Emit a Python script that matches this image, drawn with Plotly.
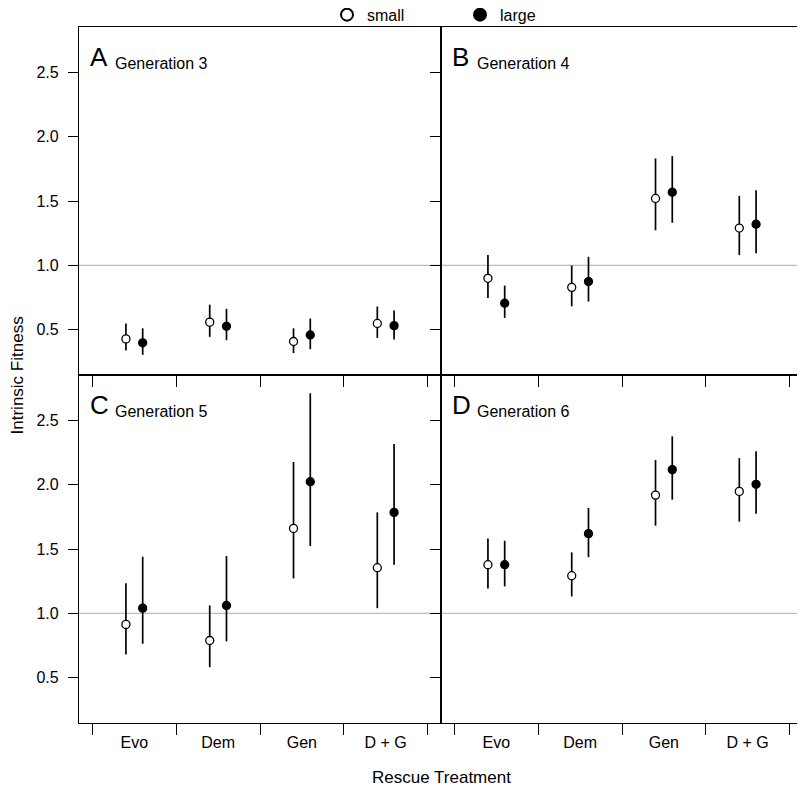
import plotly.graph_objects as go
from plotly.subplots import make_subplots

treatments = ["Evo", "Dem", "Gen", "D + G"]
panel_letters = ["A", "B", "C", "D"]
panel_titles = ["Generation 3", "Generation 4", "Generation 5", "Generation 6"]

# estimates (mean, lower, upper) per panel, treatments in order
small_mean = [[0.43, 0.56, 0.41, 0.55],
              [0.90, 0.83, 1.52, 1.29],
              [0.915, 0.79, 1.66, 1.355],
              [1.378, 1.293, 1.918, 1.947]]
small_lo = [[0.34, 0.446, 0.32, 0.438],
            [0.748, 0.683, 1.273, 1.08],
            [0.682, 0.583, 1.272, 1.041],
            [1.194, 1.132, 1.681, 1.712]]
small_hi = [[0.549, 0.696, 0.512, 0.681],
            [1.082, 0.999, 1.83, 1.54],
            [1.235, 1.062, 2.175, 1.784],
            [1.582, 1.474, 2.19, 2.205]]
large_mean = [[0.40, 0.528, 0.461, 0.533],
              [0.707, 0.875, 1.568, 1.32],
              [1.041, 1.062, 2.022, 1.784],
              [1.378, 1.619, 2.116, 2.002]]
large_lo = [[0.306, 0.42, 0.35, 0.425],
            [0.593, 0.72, 1.331, 1.095],
            [0.765, 0.783, 1.523, 1.378],
            [1.21, 1.437, 1.883, 1.774]]
large_hi = [[0.512, 0.663, 0.588, 0.65],
            [0.844, 1.067, 1.848, 1.584],
            [1.44, 1.445, 2.708, 2.315],
            [1.564, 1.818, 2.374, 2.258]]

y_ticks = [0.5, 1.0, 1.5, 2.0, 2.5]
ref_level = 1.0
dodge = 0.1

FONT = "Liberation Sans, Arial, Helvetica, sans-serif"

fig = make_subplots(rows=2, cols=2, horizontal_spacing=0, vertical_spacing=0)

pos = list(range(1, len(treatments) + 1))
for p in range(4):
    r, c = p // 2 + 1, p % 2 + 1
    for name, mean, lo, hi, fill in [
        ("small", small_mean[p], small_lo[p], small_hi[p], "white"),
        ("large", large_mean[p], large_lo[p], large_hi[p], "black"),
    ]:
        off = -dodge if name == "small" else dodge
        fig.add_trace(go.Scatter(
            x=[v + off for v in pos], y=mean, mode="markers", name=name,
            showlegend=(p == 0),
            marker=dict(size=8, color=fill, line=dict(color="black", width=1.3)),
            error_y=dict(type="data", symmetric=False,
                         array=[h - m for h, m in zip(hi, mean)],
                         arrayminus=[m - l for m, l in zip(mean, lo)],
                         width=0, thickness=1.7, color="black"),
        ), row=r, col=c)
    xa = "x" if p == 0 else f"x{p+1}"
    ya = "y" if p == 0 else f"y{p+1}"
    fig.add_shape(type="line", xref=f"{xa} domain", yref=ya, x0=0, x1=1,
                  y0=ref_level, y1=ref_level, line=dict(color="#bdbdbd", width=1.2),
                  layer="below")
    fig.add_annotation(xref=f"{xa} domain", yref=f"{ya} domain", x=0.024, y=0.866,
                       text=panel_letters[p], showarrow=False, xanchor="left",
                       yanchor="bottom", font=dict(size=26, color="black", family=FONT))
    fig.add_annotation(xref=f"{xa} domain", yref=f"{ya} domain", x=0.095, y=0.865,
                       text=panel_titles[p], showarrow=False, xanchor="left",
                       yanchor="bottom", font=dict(size=16, color="black", family=FONT))

    fig.update_xaxes(row=r, col=c, range=[0.34, 4.66], tickmode="array",
                     tickvals=pos, ticktext=treatments if r == 2 else [""] * 4,
                     showticklabels=(r == 2), automargin=False,
                     ticks="outside", ticklen=5, tickcolor="rgba(0,0,0,0)",
                     minor=dict(tickmode="array", tickvals=[v - 0.5 for v in pos] + [pos[-1] + 0.5],
                                ticks="outside", ticklen=11, tickwidth=1.3, tickcolor="black"),
                     showgrid=False, zeroline=False, showline=True, mirror=True,
                     linecolor="black", linewidth=1.3,
                     tickfont=dict(size=16, color="black", family=FONT))
    fig.update_yaxes(row=r, col=c, range=[0.15, 2.85], tickmode="array",
                     tickvals=y_ticks, ticktext=[f"{v:.1f}" for v in y_ticks],
                     showticklabels=(c == 1), automargin=False,
                     ticks="outside", ticklen=10,
                     tickwidth=1.3, tickcolor="black", ticklabelstandoff=6,
                     showgrid=False, zeroline=False, showline=True, mirror=True,
                     linecolor="black", linewidth=1.3,
                     tickfont=dict(size=16, color="black", family=FONT))

fig.add_annotation(xref="paper", yref="paper", x=0.5, y=-0.079, text="Rescue Treatment",
                   showarrow=False, xanchor="center", yanchor="middle",
                   font=dict(size=17, color="black", family=FONT))
fig.add_annotation(xref="paper", yref="paper", x=-0.085, y=0.5, text="Intrinsic Fitness",
                   showarrow=False, xanchor="center", yanchor="middle", textangle=-90,
                   font=dict(size=17, color="black", family=FONT))

fig.update_layout(
    width=797, height=785,
    margin=dict(l=71, r=2, t=19, b=70, autoexpand=False),
    paper_bgcolor="white", plot_bgcolor="white",
    font=dict(family=FONT, size=16, color="black"),
    legend=dict(orientation="h", xref="paper", yref="paper",
                x=(327 - 79) / 724, y=1.042, xanchor="left", yanchor="top",
                entrywidth=88, entrywidthmode="pixels",
                font=dict(size=16, color="black", family=FONT),
                bgcolor="rgba(0,0,0,0)", itemsizing="constant"),
)

fig.write_html("out.html")
